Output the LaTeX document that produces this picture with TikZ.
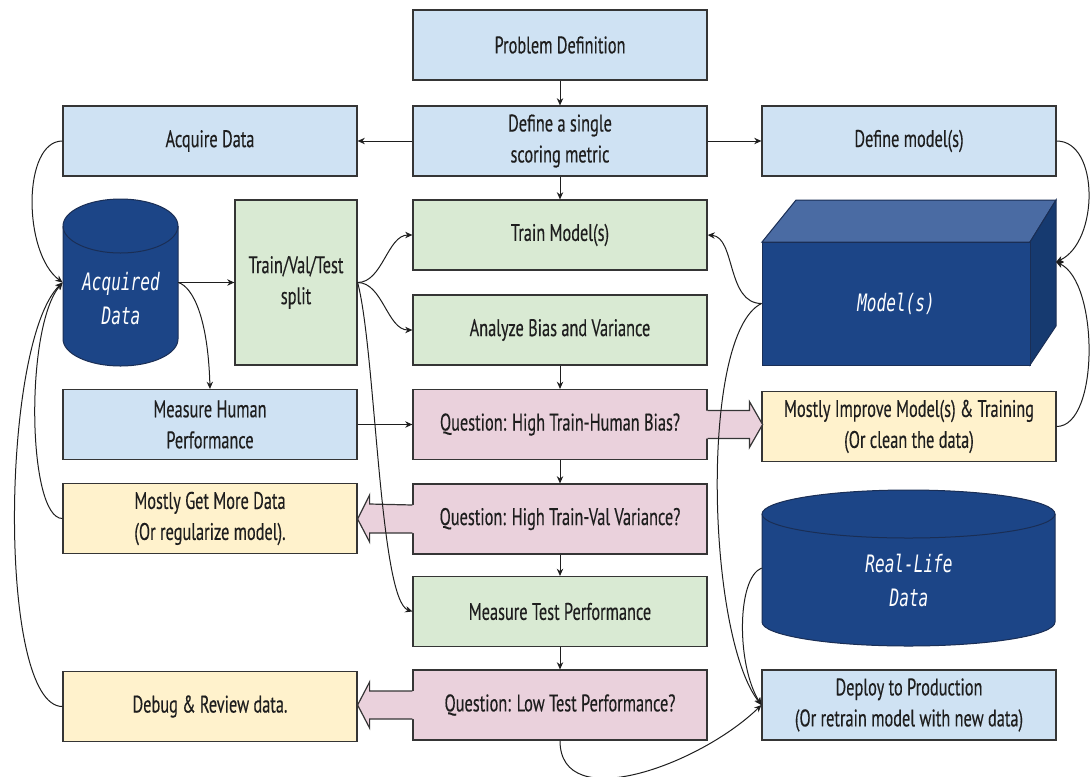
\documentclass[tikz,border=0pt]{standalone}
\usepackage{fontspec}
\setmainfont{PT Sans}[FakeStretch=0.68, FakeBold=0.3]
\newfontfamily\datafont{DejaVu Sans Mono}[FakeStretch=0.67]
\usetikzlibrary{arrows.meta,calc}

\definecolor{bluefill}{HTML}{CFE2F3}
\definecolor{greenfill}{HTML}{D9EAD3}
\definecolor{pinkfill}{HTML}{EAD1DC}
\definecolor{yellowfill}{HTML}{FFF2CC}
\definecolor{navy}{HTML}{1C4587}
\definecolor{navytop}{HTML}{4A6BA3}
\definecolor{navyside}{HTML}{163A70}
\definecolor{navyedge}{HTML}{1A2E55}
\definecolor{edge}{HTML}{353535}
\definecolor{ink}{HTML}{1E1E1E}

\tikzset{
  box/.style={draw=edge, line width=0.6pt, inner sep=0pt, align=center,
    text=ink, font=\fontsize{12}{15.5}\selectfont,
    minimum width=147pt, minimum height=35pt},
  bluebox/.style={box, fill=bluefill},
  greenbox/.style={box, fill=greenfill},
  pinkbox/.style={box, fill=pinkfill},
  yellowbox/.style={box, fill=yellowfill},
  solid3d/.style={draw=navyedge, line width=0.5pt},
  datatext/.style={text=white, align=center, inner sep=0pt,
    font=\datafont\itshape\fontsize{12}{17}\selectfont},
  conn/.style={draw=ink, line width=0.5pt, -{Stealth[length=3.6pt,width=3.2pt]}},
  bigarrow/.style={draw=edge, line width=0.6pt, line join=miter},
}

\begin{document}
\begin{tikzpicture}[x=0.5pt,y=-0.5pt]
\useasboundingbox (0,0) rectangle (1090,776);

% ---- process boxes ----
\node[bluebox]   (prob)    at (560,45)    {Problem Definition};
\node[bluebox]   (metric)  at (560,141)   {Define a single\\scoring metric};
\node[bluebox]   (acq)     at (210,141)   {Acquire Data};
\node[bluebox]   (defm)    at (909,141)   {Define model(s)};
\node[greenbox]  (train)   at (560,235)   {Train Model(s)};
\node[greenbox]  (anal)    at (560,330)   {Analyze Bias and Variance};
\node[greenbox, minimum width=61pt, minimum height=82.5pt]
                 (split)   at (296,282.5) {Train/Val/Test\\split};
\node[bluebox]   (human)   at (210,424.5) {Measure Human\\Performance};
\node[pinkbox]   (q1)      at (560,424.5) {Question: High Train-Human Bias?};
\node[yellowbox] (improve) at (909,426.5) {Mostly Improve Model(s) \& Training\\(Or clean the data)};
\node[yellowbox] (more)    at (210,518.5) {Mostly Get More Data\\(Or regularize model).};
\node[pinkbox]   (q2)      at (560,519)   {Question: High Train-Val Variance?};
\node[greenbox]  (mtest)   at (560,611.5) {Measure Test Performance};
\node[pinkbox]   (q3)      at (560,705)   {Question: Low Test Performance?};
\node[yellowbox] (debug)   at (210,706.5) {Debug \& Review data.};
\node[bluebox]   (deploy)  at (909,705)   {Deploy to Production\\(Or retrain model with new data)};

% ---- acquired data store (cylinder) ----
\filldraw[solid3d, fill=navy] (63,226) -- (63,339)
  arc[start angle=180, end angle=360, x radius=28.75pt, y radius=13.5pt]
  -- (178,226)
  arc[start angle=0, end angle=180, x radius=28.75pt, y radius=13.5pt] -- cycle;
\draw[solid3d] (63,226) arc[start angle=180, end angle=360, x radius=28.75pt, y radius=13.5pt];
\node[minimum width=57.5pt, minimum height=83.5pt, inner sep=0pt] (acqdata) at (120.5,282.5) {};
\node[datatext] (acqlabel) at (121,299) {Acquired\\Data};

% ---- real-life data store (cylinder) ----
\filldraw[solid3d, fill=navy] (762,514) -- (762,622)
  arc[start angle=180, end angle=360, x radius=73.25pt, y radius=12pt]
  -- (1055,514)
  arc[start angle=0, end angle=180, x radius=73.25pt, y radius=12pt] -- cycle;
\draw[solid3d] (762,514) arc[start angle=180, end angle=360, x radius=73.25pt, y radius=12pt];
\node[minimum width=146.5pt, minimum height=78pt, inner sep=0pt] (real) at (908.5,568) {};
\node[datatext] (reallabel) at (909,580) {Real-Life\\Data};

% ---- model block (cube) ----
\filldraw[solid3d, fill=navytop] (762,242) -- (796,200) -- (1056,200) -- (1030,242) -- cycle;
\filldraw[solid3d, fill=navyside] (1030,242) -- (1056,200) -- (1056,326) -- (1030,365) -- cycle;
\node[solid3d, fill=navy, minimum width=134pt, minimum height=61.5pt, inner sep=0pt,
      datatext] (model) at (896,303.5) {Model(s)};
\coordinate (modelin) at (1056,262);

% ---- outcome block arrows ----
\fill[pinkfill] ($(q1.east)+(-1.5,-14)$) -- ($(improve.west)+(-12,-16)$) -- ($(improve.west)+(-12,-25)$)
  -- ($(q1.east)+(55,0)$) -- ($(improve.west)+(-12,21)$) -- ($(improve.west)+(-12,12)$)
  -- ($(q1.east)+(-1.5,14)$) -- cycle;
\draw[bigarrow] ($(q1.east)+(0,-14)$) -- ($(improve.west)+(-12,-16)$) -- ($(improve.west)+(-12,-25)$)
  -- ($(q1.east)+(55,0)$) -- ($(improve.west)+(-12,21)$) -- ($(improve.west)+(-12,12)$)
  -- ($(q1.east)+(0,14)$);

\fill[pinkfill] ($(q2.west)+(1.5,-14)$) -- ($(more.east)+(12,-14.5)$) -- ($(more.east)+(12,-23.5)$)
  -- ($(more.east)+(0,0.5)$) -- ($(more.east)+(12,23.5)$) -- ($(more.east)+(12,14.5)$)
  -- ($(q2.west)+(1.5,14)$) -- cycle;
\draw[bigarrow] ($(q2.west)+(0,-14)$) -- ($(more.east)+(12,-14.5)$) -- ($(more.east)+(12,-23.5)$)
  -- ($(more.east)+(0,0.5)$) -- ($(more.east)+(12,23.5)$) -- ($(more.east)+(12,14.5)$)
  -- ($(q2.west)+(0,14)$);

\fill[pinkfill] ($(q3.west)+(1.5,-14)$) -- ($(debug.east)+(12,-15.5)$) -- ($(debug.east)+(12,-24.5)$)
  -- ($(debug.east)+(0,-1.5)$) -- ($(debug.east)+(12,21.5)$) -- ($(debug.east)+(12,12.5)$)
  -- ($(q3.west)+(1.5,14)$) -- cycle;
\draw[bigarrow] ($(q3.west)+(0,-14)$) -- ($(debug.east)+(12,-15.5)$) -- ($(debug.east)+(12,-24.5)$)
  -- ($(debug.east)+(0,-1.5)$) -- ($(debug.east)+(12,21.5)$) -- ($(debug.east)+(12,12.5)$)
  -- ($(q3.west)+(0,14)$);

% ---- main column ----
\draw[conn] (prob.south) -- (metric.north);
\draw[conn] (metric.south) -- (train.north);
\draw[conn] (metric.west) -- (acq.east);
\draw[conn] (metric.east) -- (defm.west);
\draw[conn] (anal.south) -- (q1.north);
\draw[conn] (q1.south) -- (q2.north);
\draw[conn] (q2.south) -- (mtest.north);
\draw[conn] (mtest.south) -- (q3.north);

% ---- data side ----
\draw[conn] (acqdata.east) -- (split.west);
\draw[conn] (acqdata.east) .. controls +(15,5) and +(-2,-70) .. (human.north);
\draw[conn] (split.east) .. controls +(25,0) and +(-25,0) .. (train.west);
\draw[conn] (split.east) .. controls +(25,0) and +(-25,0) .. (anal.west);
\draw[conn] (split.east) .. controls +(18,67) and +(-33,-11) .. (mtest.west);
\draw[conn] (human.east) -- (q1.west);

% ---- feedback loops on the left ----
\draw[conn] (acq.west) .. controls +(-40,0) and +(-40,-30) .. (acqdata.west);
\draw[conn] (more.west) .. controls +(-35,0) and +(-38,45) .. (acqdata.west);
\draw[conn] (debug.west) .. controls +(-65,0) and +(-62,60) .. (acqdata.west);

% ---- model side ----
\draw[conn] (defm.east) .. controls +(43,0) and +(43,-20) .. (modelin);
\draw[conn] (improve.east) .. controls +(43,0) and +(43,20) .. (modelin);
\draw[conn] (model.west) .. controls +(-35,0) and +(28,2) .. (train.east);
\draw[conn] (model.west) .. controls +(-62,30) and +(-55,-70) .. (deploy.west);
\draw[conn] (real.west) .. controls +(-25,10) and +(-25,-40) .. (deploy.west);
\draw[conn] (q3.south) .. controls +(0,75) and +(-62,60) .. (deploy.west);

\end{tikzpicture}
\end{document}
